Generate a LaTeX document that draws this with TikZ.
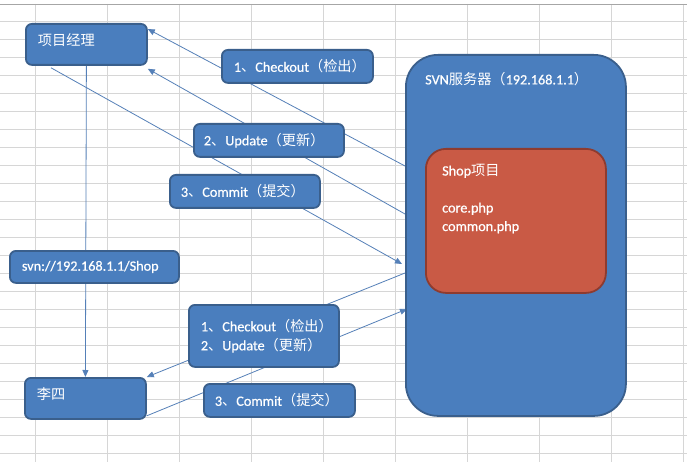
\documentclass[tikz,border=0pt]{standalone}
\usepackage{fontspec}
\setmainfont{Carlito}[FakeBold=0.6]
\newfontfamily\cjk{Noto Sans CJK SC}
\usetikzlibrary{arrows.meta,calc}
\pgfdeclarelayer{bg}
\pgfsetlayers{bg,main}
\definecolor{boxfill}{HTML}{4A7EBE}
\definecolor{boxline}{HTML}{3A5F8C}
\definecolor{redfill}{HTML}{C95A45}
\definecolor{redline}{HTML}{8E3B2F}
\definecolor{connc}{HTML}{5580B8}
\definecolor{gridc}{HTML}{D6D6D6}
\newcommand\zh[1]{{\cjk #1}}
\newcommand\boxtxt[3]{\makebox[#1][l]{\hspace{#2}#3}}
\begin{document}
\begin{tikzpicture}[x=1pt,y=-1pt,
  bx/.style={draw=boxline, fill=boxfill, line width=1.8pt, rounded corners=6pt,
    anchor=north west, inner sep=0pt, text=white, font=\fontsize{14.2}{18}\selectfont},
  connline/.style={draw=connc, line width=0.8pt},
  tipend/.style={-{Triangle[length=7pt,width=6pt]}},
  lbl/.style={inner sep=0pt, text=white, font=\fontsize{14.2}{18.5}\selectfont}]
\useasboundingbox (0,0) rectangle (687,462);

% boxes
\node[bx, minimum height=41pt] (pm) at (25,23)
  {\boxtxt{121pt}{12pt}{\zh{项目经理}\rule[-9pt]{0pt}{9pt}}};
\node[bx, minimum height=33pt] (co) at (221,49)
  {\boxtxt{151pt}{12pt}{1\zh{、}Checkout\zh{（检出）}}};
\node[bx, minimum height=33pt] (up) at (193,123)
  {\boxtxt{150pt}{10pt}{2\zh{、}Update\zh{（更新）}}};
\node[bx, minimum height=33pt] (cm) at (169,174)
  {\boxtxt{150pt}{11pt}{3\zh{、}Commit\zh{（提交）}}};
\node[bx, minimum height=32pt] (svn) at (9,250)
  {\boxtxt{169pt}{12pt}{svn://192.168.1.1/Shop}};
\node[bx, minimum height=62pt] (cu) at (188,304)
  {\boxtxt{150pt}{12pt}{\vbox{\baselineskip=19pt\hbox{1\zh{、}Checkout\zh{（检出）}}\hbox{2\zh{、}Update\zh{（更新）}}}}};
\node[bx, minimum height=41pt] (ls) at (24,377)
  {\boxtxt{121pt}{12pt}{\zh{李四}\rule[-10.7pt]{0pt}{10.7pt}}};
\node[bx, minimum height=33pt] (cm2) at (203,383)
  {\boxtxt{151pt}{11pt}{3\zh{、}Commit\zh{（提交）}}};

% server
\node[draw=boxline, fill=boxfill, line width=1.8pt, rounded corners=32pt,
  anchor=north west, minimum width=220pt, minimum height=361pt, inner sep=0pt] (srv) at (405,54) {};
\node[lbl, anchor=west] (srvl) at (425,79) {SVN\zh{服务器（}192.168.1.1\zh{）}};
\node[draw=redline, fill=redfill, line width=1.8pt, rounded corners=20pt,
  anchor=north west, minimum width=180pt, minimum height=144pt, inner sep=0pt] (shop) at (425,148) {};
\node[lbl, anchor=north west, align=left] (shopl) at (442,164)
  {Shop\zh{项目}\\ \\core.php\\common.php};

\begin{pgfonlayer}{bg}
  \fill[white] (0,0) rectangle (687,462);
  \foreach \x in {35,107,...,683} \draw[gridc, line width=0.8pt] (\x,4) -- (\x,462);
  \foreach \y in {21,39,...,453} \draw[gridc, line width=0.8pt] (0,\y) -- (687,\y);
  \draw[gray!70, line width=0.8pt] (0,4) -- (687,4);
  % connectors
  \draw[connline, tipend] ([yshift=-112pt]srv.north west) -- ([yshift=-6pt]pm.north east);
  \draw[connline, tipend] ([yshift=-160pt]srv.north west) -- ([yshift=-3pt]pm.south east);
  \draw[connline, tipend] ([xshift=26pt,yshift=-2pt]pm.south west) -- ([xshift=-3pt,yshift=-210pt]srv.north west);
  \draw[connline, tipend] ([yshift=-219pt]srv.north west) -- (ls.north east);
  \draw[connline, tipend] ([yshift=4pt]ls.south east) -- ([xshift=2pt,yshift=-255pt]srv.north west);
  \draw[connline, tipend] (pm.south) -- (ls.north);
\end{pgfonlayer}
\end{tikzpicture}
\end{document}
